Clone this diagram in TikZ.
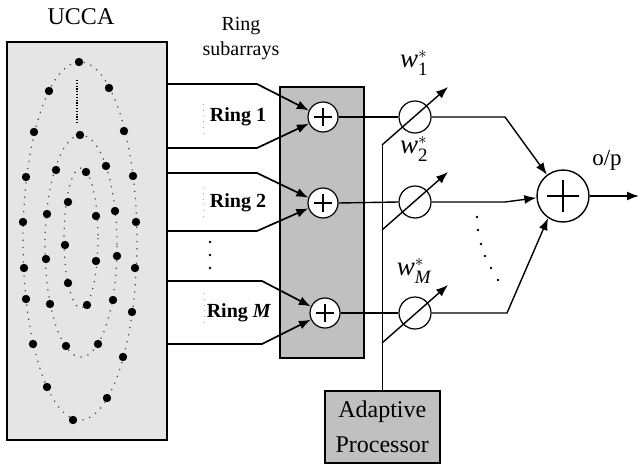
\documentclass[tikz,border=0pt]{standalone}
\usepackage{fontspec}
\setmainfont{Liberation Serif}
\usepackage{amsmath}
\usetikzlibrary{arrows.meta}
\definecolor{uccagray}{RGB}{229,229,229}
\definecolor{boxgray}{RGB}{192,192,192}
\definecolor{dotgray}{RGB}{70,70,70}
\tikzset{
  plusmark/.style={path picture={\draw[line width=1.3pt]
    ([xshift=-#1]path picture bounding box.center) -- ([xshift=#1]path picture bounding box.center)
    ([yshift=-#1]path picture bounding box.center) -- ([yshift=#1]path picture bounding box.center);}},
  sumnode/.style={shape=circle,draw,fill=white,line width=1.2pt,minimum size=30pt,inner sep=0pt,plusmark=9pt},
  weightnode/.style={shape=circle,draw,line width=1.2pt,minimum size=32pt,inner sep=0pt},
  ringline/.style={line width=1.7pt},
  tip/.style={-{Latex[length=12pt,width=9pt]}},
  ringlabel/.style={font=\fontsize{20}{20}\selectfont\bfseries},
  wlabel/.style={font=\fontsize{27}{27}\selectfont},
  arraydots/.style={dotgray,line width=1.2pt,dash pattern=on 1.2pt off 6pt},
  labeldots/.style={gray!70,line width=0.8pt,dash pattern=on 0.8pt off 5pt},
}
\begin{document}
\begin{tikzpicture}[x=1pt,y=-1pt]
\useasboundingbox (0,0) rectangle (640,466);

\node[font=\fontsize{24}{24}\selectfont] (uccalabel) at (81,17) {UCCA};
\node[draw,fill=uccagray,line width=1.8pt,minimum width=160pt,minimum height=398pt,anchor=north west] (ucca) at (6,41) {};

\draw[arraydots] (80,241) ellipse [x radius=57, y radius=179];
\draw[arraydots] (81,246) ellipse [x radius=36, y radius=111];
\draw[arraydots] (81,238) ellipse [x radius=17, y radius=70];
\draw[line width=1.8pt,dash pattern=on 1.2pt off 1.6pt] (77,80) -- (77,123);
\foreach \p in {(79,62),(49,91),(109,88),(34,132),(124,131),(80,135),(26,177),(56,170),
  (86,172),(106,166),(133,176),(68,202),(47,214),(96,216),(115,211),(23,222),(136,222),
  (65,245),(46,259),(96,261),(117,256),(24,268),(135,268),(68,283),(26,299),(50,304),
  (87,305),(113,300),(132,312),(33,344),(66,346),(98,344),(123,357),(47,387),(107,398),(73,420)}
  \fill \p circle (4.2pt);

\node[align=center,font=\fontsize{20}{25}\selectfont] (sublabel) at (241,39) {Ring\\subarrays};
\node[draw,fill=boxgray,line width=1.5pt,minimum width=84pt,minimum height=271pt,anchor=north west] (subbox) at (279,86) {};

\node[sumnode] (s1) at (323,117) {};
\node[sumnode] (s2) at (323,203) {};
\node[sumnode] (sM) at (325,313) {};

\node[ringlabel] (ring1) at (238,117) {Ring 1};
\node[ringlabel] (ring2) at (238,203) {Ring 2};
\node[ringlabel] (ringM) at (239,313) {Ring \textit{M}};
\draw[labeldots] (203,104) -- (203,136);
\draw[labeldots] (203,187) -- (203,219);
\draw[labeldots] (204,293) -- (204,325);
\foreach \y in {242,255,268}
  \fill (210,\y) circle (1.4pt);

\coordinate (b1a) at (257,84);
\coordinate (b1b) at (257,148);
\coordinate (b2a) at (257,173);
\coordinate (b2b) at (257,231);
\coordinate (bMa) at (262,281);
\coordinate (bMb) at (262,344);
\draw[ringline,tip] (ucca.east |- b1a) -- (b1a) -- (s1.155);
\draw[ringline,tip] (ucca.east |- b1b) -- (b1b) -- (s1.205);
\draw[ringline,tip] (ucca.east |- b2a) -- (b2a) -- (s2.160);
\draw[ringline,tip] (ucca.east |- b2b) -- (b2b) -- (s2.200);
\draw[ringline,tip] (ucca.east |- bMa) -- (bMa) -- (sM.155);
\draw[ringline,tip] (ucca.east |- bMb) -- (bMb) -- (sM.205);

\node[weightnode] (w1) at (415,117) {};
\node[weightnode] (w2) at (415,202) {};
\node[weightnode] (wM) at (415,313) {};
\node[wlabel] (w1label) at (414,63) {$\textit{w}_{\text{1}}^{*}$};
\node[wlabel] (w2label) at (414,149) {$\textit{w}_{\text{2}}^{*}$};
\node[wlabel] (wMlabel) at (414,271) {$\textit{w}_{\textit{M}}^{*}$};

\draw[line width=2.8pt] (s1.east) -- (w1.west);
\draw[line width=1.4pt] (s2.east) -- (w2.west);
\draw[line width=2.8pt] (sM.east) -- (wM.west);

\node[draw,fill=boxgray,line width=1.5pt,minimum width=115pt,minimum height=72pt,anchor=north west,
  align=center,font=\fontsize{24}{35}\selectfont] (ap) at (324,390) {Adaptive\\Processor};
\coordinate (a1) at (382,145);
\coordinate (a2) at (382,230);
\coordinate (aM) at (382,343);
\coordinate (t1) at (448,87);
\coordinate (t2) at (448,172);
\coordinate (tM) at (448,285);
\draw[line width=1.4pt] (ap.north) -- (ap.north |- a1);
\draw[line width=1.4pt,tip] (a1) -- (t1);
\draw[line width=1.4pt,tip] (a2) -- (t2);
\draw[line width=1.4pt,tip] (aM) -- (tM);

\node[shape=circle,draw,line width=1.4pt,minimum size=52pt,inner sep=0pt,plusmark=16pt] (out) at (563,196) {};
\coordinate (c1) at (505,117);
\coordinate (c2) at (505,202);
\coordinate (cM) at (507,313);
\draw[line width=1.4pt,tip] (w1.east) -- (c1) -- (out.127);
\draw[line width=1.4pt,tip] (w2.east) -- (c2) -- (out.184);
\draw[line width=1.4pt,tip] (wM.east) -- (cM) -- (out.236);
\foreach \p in {(477,217),(478,230),(481,244),(485,256),(491,268),(498,280)}
  \fill \p circle (1.4pt);

\coordinate (op) at (639,196);
\draw[line width=1.6pt,tip] (out.east) -- (op);
\node[font=\fontsize{23}{23}\selectfont] (oplabel) at (607,160) {o/p};
\end{tikzpicture}
\end{document}
